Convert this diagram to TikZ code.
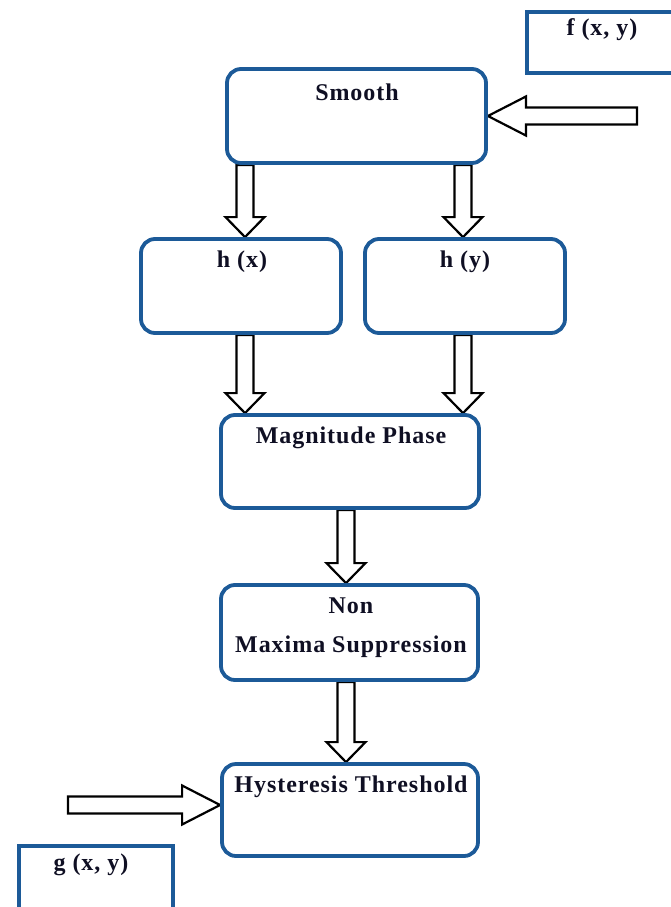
\documentclass[tikz,border=0pt]{standalone}
\usepackage{fontspec}
\setmainfont{Liberation Serif}[LetterSpace=4]
\usetikzlibrary{calc}
\pgfdeclarelayer{background}
\pgfsetlayers{background,main}
\definecolor{boxblue}{RGB}{28,90,152}
\definecolor{inkdark}{RGB}{15,15,35}
\tikzset{
  stage/.style={draw=boxblue, line width=3.8pt, rounded corners=14pt, inner sep=0pt},
  term/.style={draw=boxblue, line width=3.8pt, inner sep=0pt},
  lbl/.style={font=\fontsize{24}{28}\selectfont\bfseries, text=inkdark, anchor=base, inner sep=0pt},
  % hollow block arrow from the start point to the target; #1 = head length
  blockarrow/.style={draw=black, line width=2.2pt, fill=white, line join=miter,
    to path={
      let \p1=(\tikztostart), \p2=(\tikztotarget),
          \n1={atan2(\y2-\y1,\x2-\x1)}, \n2={veclen(\x2-\x1,\y2-\y1)} in
      {[shift={(\p1)}, rotate=\n1]
        (0pt,-8.5pt) -- ({\n2-#1pt},-8.5pt) -- ({\n2-#1pt},-19.5pt) -- (\n2,0pt)
        -- ({\n2-#1pt},19.5pt) -- ({\n2-#1pt},8.5pt) -- (0pt,8.5pt) -- cycle}
    }},
  blockarrow/.default=20
}
\begin{document}
\begin{tikzpicture}[x=1pt, y=-1pt]
\useasboundingbox (0,0) rectangle (671,907);
\begin{scope}
\clip (0,0) rectangle (671,907);

% processing stages
\node[stage, minimum width=259pt, minimum height=94pt] (smooth) at (356.5,116) {};
\node[stage, minimum width=200pt, minimum height=94pt] (hx) at (241,286) {};
\node[stage, minimum width=200pt, minimum height=94pt] (hy) at (465,286) {};
\node[stage, minimum width=258pt, minimum height=93pt] (mag) at (350,461.5) {};
\node[stage, minimum width=257pt, minimum height=95pt] (nms) at (349.5,632.5) {};
\node[stage, minimum width=256pt, minimum height=92pt] (hyst) at (350,810) {};

% input and output images
\node[term, anchor=north west, minimum width=200pt, minimum height=61pt] (fbox) at (525,10) {};
\node[term, anchor=north west, minimum width=154pt, minimum height=100pt] (gbox) at (17,844) {};

% labels
\node[lbl] (smoothtxt) at (357,100) {Smooth};
\node[lbl] (hxtxt) at (242,267) {h (x)};
\node[lbl] (hytxt) at (465,267) {h (y)};
\node[lbl] (magtxt) at (351,443) {Magnitude Phase};
\node[lbl] (nmstxta) at (351,613) {Non};
\node[lbl] (nmstxtb) at (351,652) {Maxima Suppression};
\node[lbl] (hysttxt) at (351,792) {Hysteresis Threshold};
\node[lbl] (ftxt) at (602,36) {f (x, y)};
\node[lbl] (gtxt) at (91,870) {g (x, y)};
\end{scope}

% arrow columns and free ends
\coordinate (colL) at (245,0);
\coordinate (colR) at (463,0);
\coordinate (colM) at (346,0);
\coordinate (fin) at (637,116);
\coordinate (gin) at (68,805);

\begin{pgfonlayer}{background}
\draw[blockarrow=38] (fin) to (smooth.east);
\draw[blockarrow] (smooth.south -| colL) to (hx.north -| colL);
\draw[blockarrow] (smooth.south -| colR) to (hy.north -| colR);
\draw[blockarrow] (hx.south -| colL) to (mag.north -| colL);
\draw[blockarrow] (hy.south -| colR) to (mag.north -| colR);
\draw[blockarrow] (mag.south -| colM) to (nms.north -| colM);
\draw[blockarrow] (nms.south -| colM) to (hyst.north -| colM);
\draw[blockarrow=38] (gin) to (hyst.west |- gin);
\end{pgfonlayer}
\end{tikzpicture}
\end{document}
